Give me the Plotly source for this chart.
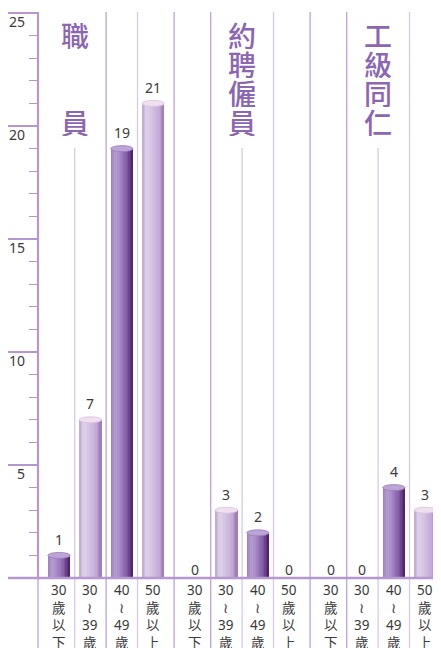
import plotly.graph_objects as go

# ---------------- data ----------------
groups = ["職員", "約聘僱員", "工級同仁"]
age_labels = ["30<br>歲<br>以<br>下", "30<br>≀<br>39<br>歲", "40<br>≀<br>49<br>歲", "50<br>歲<br>以<br>上"]
staff_values = [1, 7, 19, 21]
contract_values = [0, 3, 2, 0]
worker_values = [0, 0, 4, 3]
y_ticks = [5, 10, 15, 20, 25]
y_tick_text = ["5", "10", "15", "20", "25"]

# ---------------- layout helpers ----------------
# the page body adds an 8px margin, so the figure is sized/positioned to compensate
W, H = 433, 640
ML, MT = 30, 4
BASE_PX = 570
PX_UNIT_Y = 22.6
Y_MIN = -(H - BASE_PX) / PX_UNIT_Y
Y_MAX = 25 + 1 / PX_UNIT_Y
SLOT = 31.4                   # px per category slot
GAP = 10.4 / SLOT             # extra gap between groups (in slots)
X_MIN = -(51 - ML) / SLOT
X_MAX = X_MIN + (W - ML) / SLOT
BW = 0.71                     # bar width in slots
CAP_PX = 3.0
CAP = CAP_PX / PX_UNIT_Y
TITLE_AFTER = [0, 5, 9]       # title sits on separator after this category index

all_values = [staff_values, contract_values, worker_values]
values, xs, labels, is_dark = [], [], [], []
for g, vals in enumerate(all_values):
    for j, v in enumerate(vals):
        i = g * 4 + j
        values.append(v)
        xs.append(i + g * GAP)
        labels.append(age_labels[j])
        is_dark.append(j % 2 == 0)

AXIS = "#b797d0"
SEP_MED = "#bea3d7"
SEP_LIGHT = "#d8cae6"
TITLE = "#8a66b3"
TEXT = "#3a3a3a"
FONT = "Noto Sans, Noto Sans CJK TC, sans-serif"

dark_stops = [(0, (0x9a, 0x7b, 0xbd)), (0.2, (0xb6, 0x9c, 0xd3)), (0.42, (0xa5, 0x87, 0xc6)),
              (0.7, (0x85, 0x60, 0xa8)), (0.88, (0x60, 0x37, 0x7c)), (1.0, (0x48, 0x1f, 0x5e))]
light_stops = [(0, (0xbd, 0xa4, 0xd2)), (0.2, (0xde, 0xd2, 0xeb)), (0.45, (0xd3, 0xc2, 0xe3)),
               (0.75, (0xc3, 0xab, 0xd7)), (0.9, (0xab, 0x8d, 0xc4)), (1.0, (0x98, 0x79, 0xb3))]


def grad(stops, t):
    for (t0, c0), (t1, c1) in zip(stops, stops[1:]):
        if t <= t1:
            f = (t - t0) / (t1 - t0) if t1 > t0 else 0
            c = [round(a + (b - a) * f) for a, b in zip(c0, c1)]
            return "rgb(%d,%d,%d)" % tuple(c)
    return "rgb(%d,%d,%d)" % stops[-1][1]


fig = go.Figure()

# cylinder bodies built from overlapping vertical stripes
N = 14
for k in range(N):
    t = (k + 0.5) / N
    off = -BW / 2 + k * BW / N
    cols = [grad(dark_stops, t) if d else grad(light_stops, t) for d in is_dark]
    fig.add_trace(go.Bar(
        x=xs, y=values, width=BW - k * BW / N, offset=off,
        marker=dict(color=cols, line=dict(width=0)),
        hoverinfo="skip", showlegend=False,
    ))

shapes = []
# separators
for i in range(len(xs) - 1):
    xm = (xs[i] + xs[i + 1]) / 2
    if i in TITLE_AFTER:
        y1 = (BASE_PX - 140) / PX_UNIT_Y
        col = SEP_LIGHT
    else:
        y1 = Y_MAX
        col = SEP_LIGHT if i % 4 == 2 else SEP_MED
    shapes.append(dict(type="line", xref="x", yref="y", x0=xm, x1=xm, y0=Y_MIN, y1=y1,
                       line=dict(color=col, width=1.3), layer="below"))

# y axis line (thick above baseline, thin below)
shapes.append(dict(type="line", xref="paper", yref="y", x0=0, x1=0, y0=0, y1=Y_MAX,
                   line=dict(color=AXIS, width=2.2)))
shapes.append(dict(type="line", xref="paper", yref="y", x0=0, x1=0, y0=Y_MIN, y1=0,
                   line=dict(color=SEP_MED, width=1.3)))
# baseline
shapes.append(dict(type="line", xref="paper", yref="y", x0=-30 / (W - ML), x1=1, y0=0, y1=0,
                   line=dict(color=AXIS, width=2.4)))

# cylinder caps
for x, v, d in zip(xs, values, is_dark):
    if v > 0:
        shapes.append(dict(type="circle", xref="x", yref="y",
                           x0=x - BW / 2, x1=x + BW / 2, y0=v - CAP, y1=v + CAP,
                           fillcolor="#bca4d6" if d else "#f1dff0",
                           line=dict(color="#9a7cbc" if d else "#d6c2e2", width=0.8)))

annotations = []
# y tick labels (sit just below their tick lines)
for v, t in zip(y_ticks, y_tick_text):
    annotations.append(dict(x=0, y=v, xref="paper", yref="y", text=t, showarrow=False,
                            xanchor="right", xshift=-11, yanchor="middle", yshift=-8,
                            font=dict(size=14, color=TEXT, family=FONT)))
# value labels
for x, v in zip(xs, values):
    annotations.append(dict(x=x, y=v, xref="x", yref="y", text=str(v), showarrow=False,
                            yanchor="middle", yshift=9 + (7 if v > 0 else 0),
                            font=dict(size=14, color=TEXT, family=FONT)))
# category labels (vertical)
for x, lab in zip(xs, labels):
    annotations.append(dict(x=x, y=0, xref="x", yref="y", text=lab, showarrow=False,
                            yanchor="top", yshift=-1,
                            font=dict(size=13.5, color=TEXT, family=FONT)))
# group titles (vertical characters)
for g, name in enumerate(groups):
    i = TITLE_AFTER[g]
    xm = (xs[i] + xs[i + 1]) / 2
    n = len(name)
    for c_idx, ch in enumerate(name):
        slot = c_idx * 3 / (n - 1) if n < 4 else c_idx
        annotations.append(dict(x=xm, y=1, xref="x", yref="paper", text=ch, showarrow=False,
                                yanchor="middle", yshift=-(22.5 + slot * 29.3),
                                height=28, valign="middle", borderpad=0,
                                font=dict(size=28, color=TITLE, family="Noto Sans CJK TC",
                                          weight=500)))

fig.update_layout(
    width=W, height=H, margin=dict(l=ML, r=0, t=MT, b=0),
    paper_bgcolor="white", plot_bgcolor="white",
    barmode="overlay", bargap=0, showlegend=False,
    shapes=shapes, annotations=annotations,
    xaxis=dict(range=[X_MIN, X_MAX], visible=False, fixedrange=True),
    yaxis=dict(range=[Y_MIN, Y_MAX], tickmode="array", tickvals=y_ticks,
               showticklabels=False,
               ticks="outside", ticklen=30, tickwidth=1.5, tickcolor=AXIS,
               showgrid=False, zeroline=False, showline=False,
               minor=dict(tickmode="array",
                          tickvals=[v for v in range(1, 25) if v % 5 != 0],
                          ticks="outside", ticklen=8, tickwidth=1.2, tickcolor=AXIS),
               fixedrange=True),
)

fig.write_html("out.html")
